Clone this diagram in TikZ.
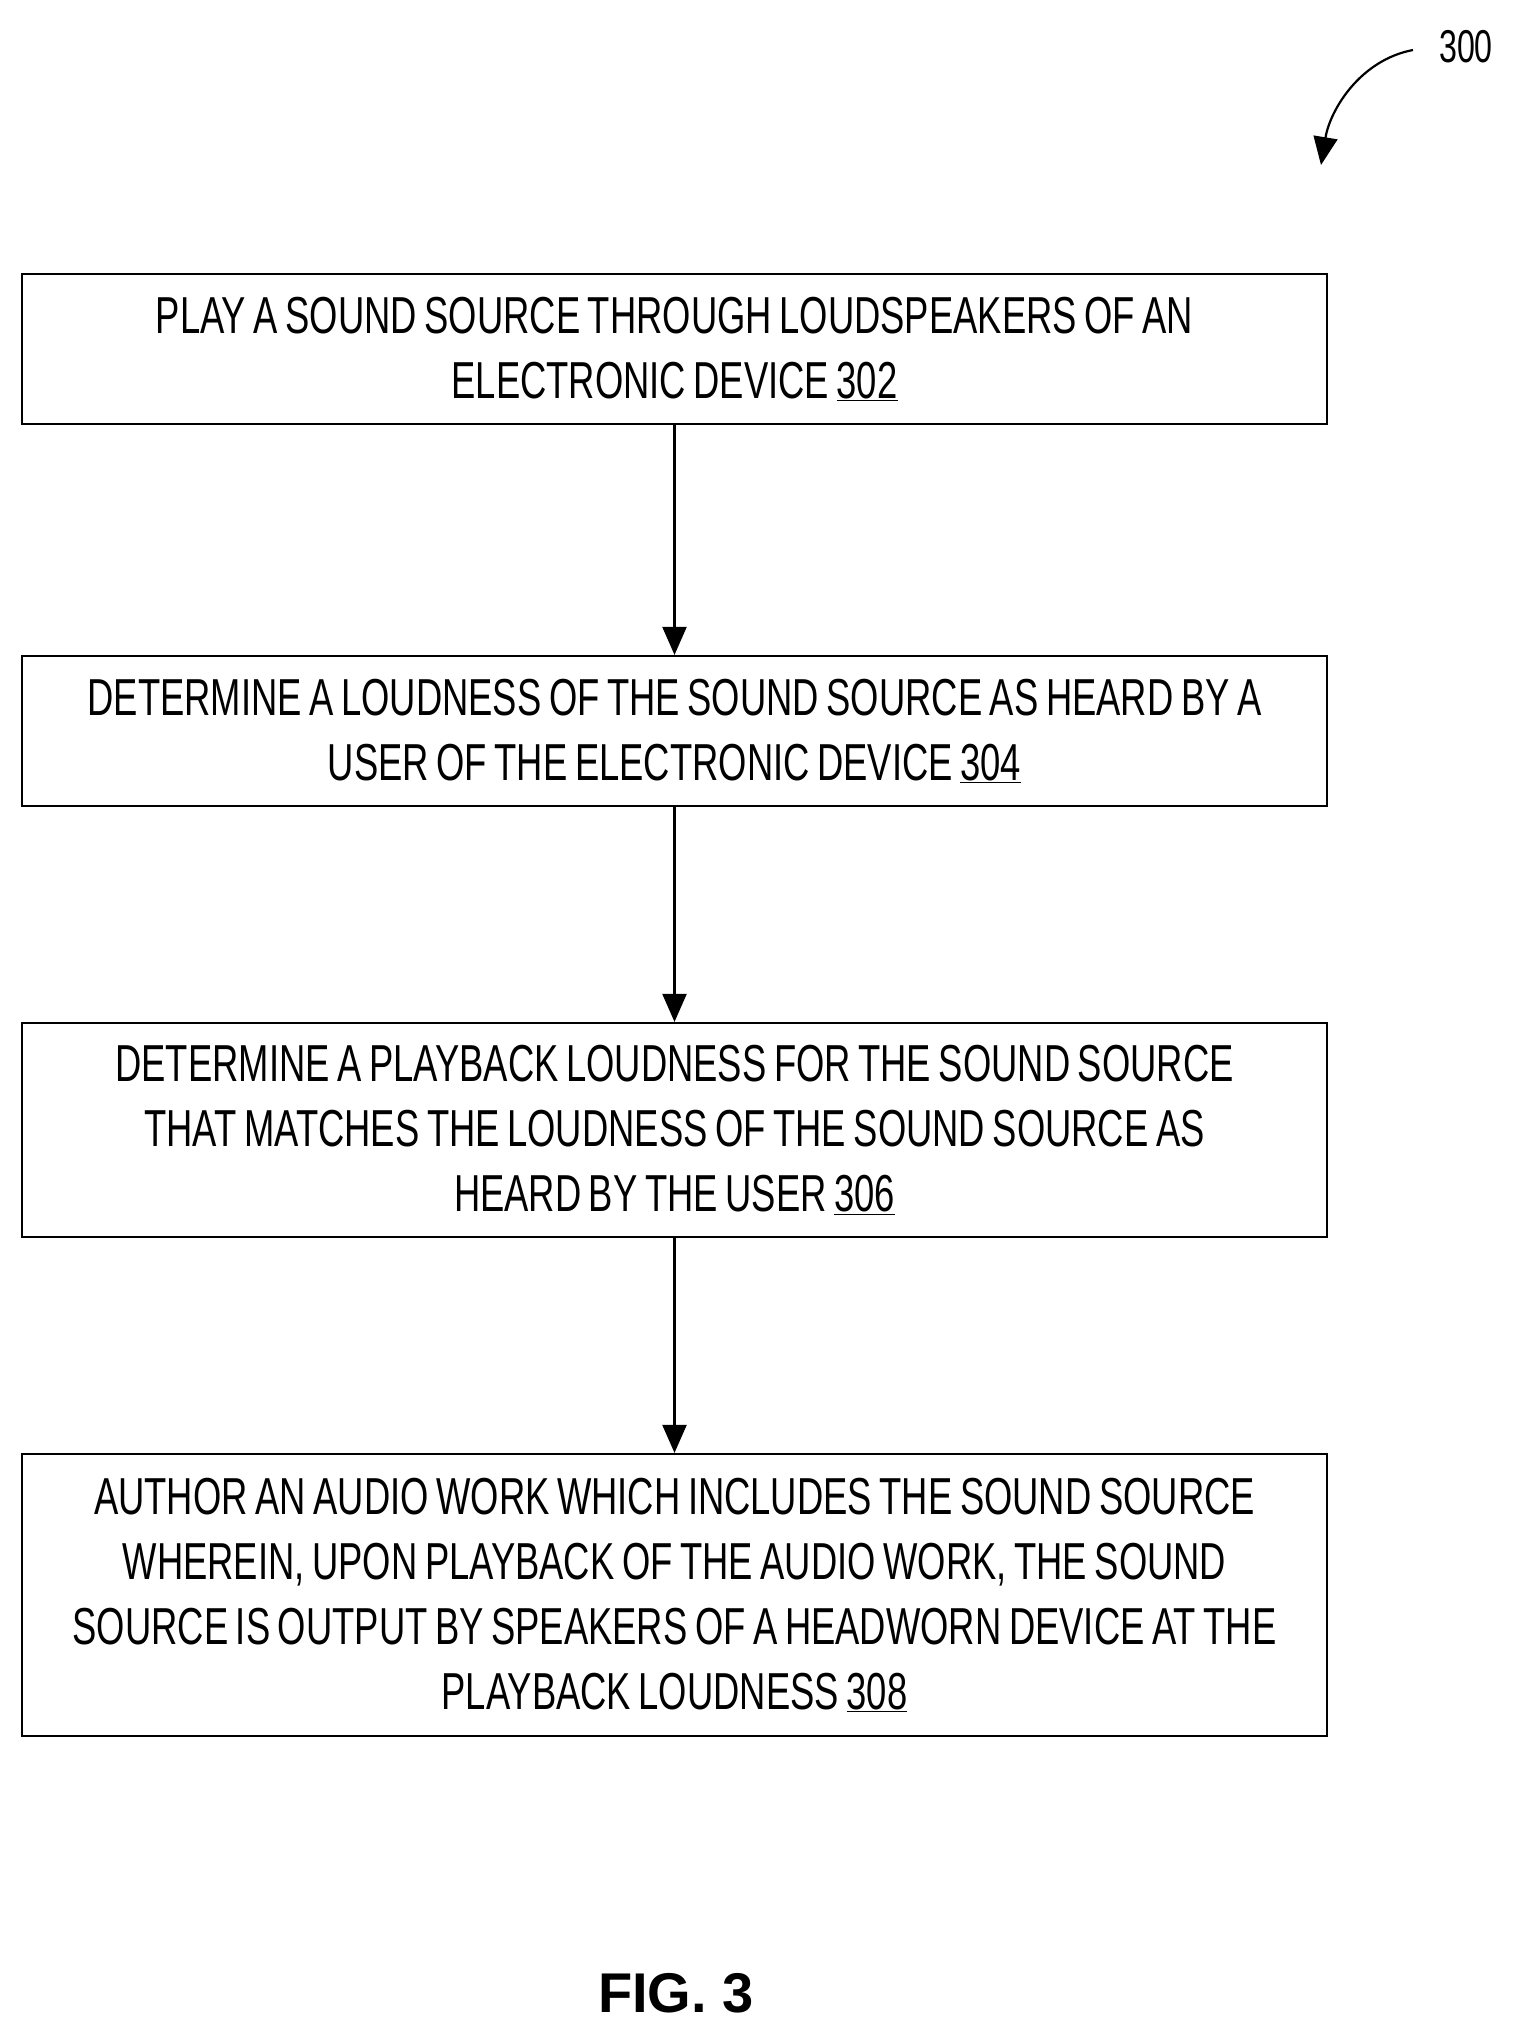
\documentclass[tikz,border=0pt]{standalone}
\usepackage{fontspec}
\setmainfont{Liberation Sans}[FakeStretch=0.70,WordSpace=0.75]
\newfontfamily\figfont{Liberation Sans}
\usetikzlibrary{arrows.meta}
\begin{document}
\begin{tikzpicture}[x=1pt,y=-1pt,
  box/.style={draw,line width=2.2pt,minimum width=1305pt,align=center,inner sep=0pt,font=\fontsize{52}{65}\selectfont},
  arr/.style={line width=2.2pt,-{Triangle[length=28pt,width=24pt]}}]
\useasboundingbox (0,0) rectangle (1514,2029);
\node[box,minimum height=150pt] (b1) at (674.5,349) {PLAY A SOUND SOURCE THROUGH LOUDSPEAKERS OF AN\\ELECTRONIC DEVICE \underline{302}};
\node[box,minimum height=150pt] (b2) at (674.5,731) {DETERMINE A LOUDNESS OF THE SOUND SOURCE AS HEARD BY A\\USER OF THE ELECTRONIC DEVICE \underline{304}};
\node[box,minimum height=214pt] (b3) at (674.5,1130) {DETERMINE A PLAYBACK LOUDNESS FOR THE SOUND SOURCE\\THAT MATCHES THE LOUDNESS OF THE SOUND SOURCE AS\\HEARD BY THE USER \underline{306}};
\node[box,minimum height=282pt] (b4) at (674.5,1595) {AUTHOR AN AUDIO WORK WHICH INCLUDES THE SOUND SOURCE\\WHEREIN, UPON PLAYBACK OF THE AUDIO WORK, THE SOUND\\SOURCE IS OUTPUT BY SPEAKERS OF A HEADWORN DEVICE AT THE\\PLAYBACK LOUDNESS \underline{308}};
\draw[arr] (b1) -- (b2);
\draw[arr] (b2) -- (b3);
\draw[arr] (b3) -- (b4);
\node[font=\fontsize{46}{50}\selectfont] (lbl) at (1466,47) {300};
\coordinate (c) at (1321,165);
\draw[arr] (1413,50) .. controls (1360,60) and (1330,110) .. (c);
\node[font=\figfont\bfseries\fontsize{56}{60}\selectfont] (fig) at (676,1993) {FIG. 3};
\end{tikzpicture}
\end{document}
